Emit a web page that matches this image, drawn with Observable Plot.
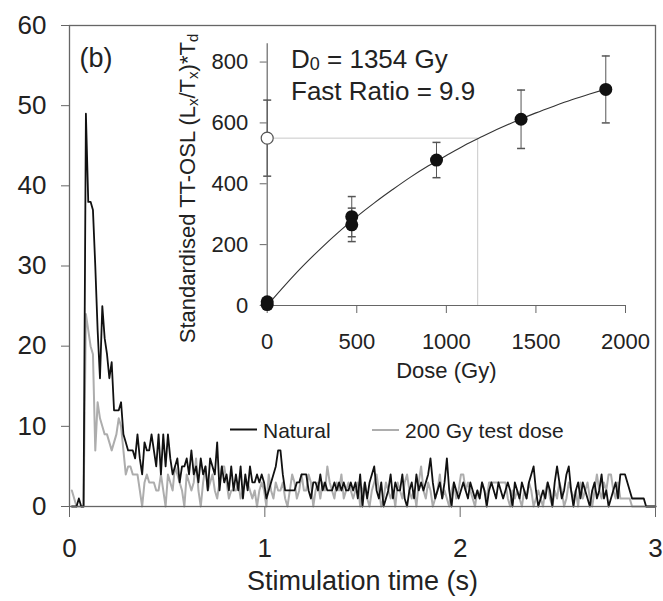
<!DOCTYPE html>
<html><head><meta charset="utf-8">
<script src="https://cdn.jsdelivr.net/npm/d3@7"></script>
<script src="https://cdn.jsdelivr.net/npm/@observablehq/plot@0.6"></script>
<style>
body{margin:0;background:#fff;}
#wrap{position:relative;width:663px;height:601px;background:#fff;}
#wrap svg{position:absolute;}
</style></head><body><div id="wrap"></div>
<script>
// ---------- main chart data (TT-OSL decay curves) ----------
const channelWidth = 0.012; // s per channel
const timeTicks = [0, 1, 2, 3];
const countTicks = [0, 10, 20, 30, 40, 50, 60];
const seriesNames = ["Natural", "200 Gy test dose"];
const naturalCounts = [
  0,0,0,1,0,0,49,38,38,37,
  30,22,16,25,21,19,16,18,12,12,
  12,13,9,8,7,7,7,6,9,6,
  4,8,7,7,9,7,5,9,4,9,
  5,9,6,4,5,6,3,5,5,6,
  4,7,4,5,3,6,4,5,2,6,
  5,4,8,2,5,3,4,2,5,2,
  4,2,5,1,4,2,5,3,3,4,
  3,4,3,1,2,3,4,5,7,7,
  4,2,2,2,2,2,3,3,4,4,
  4,2,1,3,3,2,4,2,3,2,
  2,2,3,2,3,2,3,2,2,3,
  2,3,1,4,0,3,1,3,4,5,
  2,1,3,0,1,2,4,1,3,2,
  2,4,1,0,2,3,1,4,2,3,
  2,3,4,6,3,1,2,3,1,3,
  6,2,0,3,2,1,2,3,2,1,
  3,2,1,2,1,3,2,0,2,3,
  2,1,3,2,1,2,3,2,0,3,
  2,1,3,2,1,3,4,5,2,0,
  1,2,1,3,2,0,3,5,3,1,
  2,4,5,2,0,2,3,1,3,2,
  1,0,2,3,1,2,4,1,2,0,
  1,2,3,1,4,4,4,3,2,1,
  1,1,1,1,1,0,0,0,0,0
];
const testDoseCounts = [
  2,1,0,0,0,0,24,22,20,19,
  7,13,11,10,9,9,8,7,8,9,
  11,10,7,4,5,5,4,4,4,2,
  0,3,4,3,3,3,2,2,4,2,
  0,4,3,2,5,4,3,2,0,4,
  3,2,3,6,2,0,3,5,2,3,
  4,2,1,3,5,5,3,1,2,2,
  2,3,1,2,3,3,2,1,2,0,
  2,3,2,0,4,2,1,3,2,2,
  3,1,0,2,4,3,1,2,4,2,
  2,4,3,0,2,3,1,3,2,5,
  3,2,1,3,2,4,1,2,3,2,
  1,2,3,0,2,3,1,0,2,3,
  4,2,0,1,3,2,1,2,0,3,
  2,1,3,4,2,1,2,0,3,5,
  2,1,3,2,0,1,2,4,1,2,
  1,0,2,3,1,2,4,4,2,3,
  2,1,0,2,1,3,2,1,3,3,
  3,3,3,3,3,3,1,0,2,1,
  2,1,0,2,1,3,2,0,1,2,
  1,0,2,3,1,0,2,1,3,2,
  0,1,3,2,1,2,0,3,1,2,
  3,1,0,2,4,2,1,3,2,4,
  4,2,1,3,1,1,1,1,1,0,
  0,0,0,0,0,0,0,0,0,0
];

// ---------- inset data (dose response) ----------
const regenDose = [0, 0, 472, 472, 945, 1417, 1890];
const regenSignal = [3, 12, 292, 265, 478, 612, 710];
const regenError = [0, 0, 66, 55, 58, 96, 110];
const naturalSignal = 550;
const naturalError = 125;
const equivalentDose = 1175;
const fitDose = [0,100,200,300,400,500,600,700,800,900,1000,1100,1200,1300,1400,1500,1600,1700,1800,1890];
const fitSignal = [0,67,130,188,242,292,338,381,422,459,493,526,555,583,609,633,655,676,695,711];
const doseTicks = [0, 500, 1000, 1500, 2000];
const signalTicks = [0, 200, 400, 600, 800];

const FONT = "'Liberation Sans', Arial, sans-serif";
const wrap = document.getElementById("wrap");

const naturalRows = naturalCounts.map((v, i) => ({t: (i + 1) * channelWidth, v}));
const testRows = testDoseCounts.map((v, i) => ({t: (i + 1) * channelWidth, v}));

const main = Plot.plot({
  width: 663, height: 601,
  marginLeft: 69, marginRight: 8, marginTop: 25, marginBottom: 95,
  style: {background: "transparent", fontFamily: FONT, color: "#222", left: "0px", top: "0px", overflow: "visible"},
  x: {domain: [0, 3]},
  y: {domain: [0, 60]},
  marks: [
    Plot.line(testRows, {x: "t", y: "v", stroke: "#adadad", strokeWidth: 2}),
    Plot.line(naturalRows, {x: "t", y: "v", stroke: "#111", strokeWidth: 1.8}),
    Plot.frame({stroke: "#666", strokeWidth: 1.3}),
    Plot.axisY({ticks: countTicks, tickSize: 8, tickPadding: 15, fontSize: 26, label: null, tickFormat: d => String(d), stroke: "#666"}),
    Plot.axisX({ticks: timeTicks, tickSize: 11, tickPadding: 21, fontSize: 26, label: null, tickFormat: d => String(d), stroke: "#666"}),
    Plot.text(["Stimulation time (s)"], {frameAnchor: "bottom", dy: 83, fontSize: 27, fill: "#222"})
  ]
});
wrap.append(main);

// panel label and legend
const gm = d3.select(main).append("g").attr("font-family", FONT).attr("fill", "#222").attr("text-anchor", "start");
gm.append("text").attr("x", 96).attr("y", 67).attr("text-anchor", "middle").attr("font-size", 27).text("(b)");
gm.append("line").attr("x1", 230).attr("x2", 257).attr("y1", 429.5).attr("y2", 429.5).attr("stroke", "#111").attr("stroke-width", 2);
gm.append("text").attr("x", 263).attr("y", 437.5).attr("font-size", 21).text(seriesNames[0]);
gm.append("line").attr("x1", 372).attr("x2", 399).attr("y1", 430).attr("y2", 430).attr("stroke", "#adadad").attr("stroke-width", 2);
gm.append("text").attr("x", 405).attr("y", 437.5).attr("font-size", 21).text(seriesNames[1]);

// ---------- inset ----------
const regen = regenDose.map((d, i) => ({dose: d, lx: regenSignal[i], lo: regenSignal[i] - regenError[i], hi: regenSignal[i] + regenError[i], e: regenError[i]}));
const regenErr = regen.filter(d => d.e > 0);
const fit = fitDose.map((d, i) => ({dose: d, lx: fitSignal[i]}));
const nat = [{dose: 0, lx: naturalSignal, lo: naturalSignal - naturalError, hi: naturalSignal + naturalError}];
const capSymbol = {draw(ctx, size) { const w = Math.sqrt(size / Math.PI); ctx.moveTo(-w, 0); ctx.lineTo(w, 0); }};

const inset = Plot.plot({
  width: 510, height: 380,
  marginLeft: 116.7, marginRight: 35, marginTop: 23.3, marginBottom: 95,
  style: {background: "transparent", fontFamily: FONT, color: "#222", left: "150px", top: "20px", overflow: "visible"},
  x: {domain: [0, 2000]},
  y: {domain: [0, 860]},
  marks: [
    Plot.ruleY([naturalSignal], {x1: 0, x2: equivalentDose, stroke: "#c8c8c8", strokeWidth: 1}),
    Plot.ruleX([equivalentDose], {y1: 0, y2: naturalSignal, stroke: "#c8c8c8", strokeWidth: 1}),
    Plot.ruleX([0], {stroke: "#666", strokeWidth: 1.2}),
    Plot.ruleY([0], {stroke: "#666", strokeWidth: 1.2}),
    Plot.axisY({ticks: signalTicks, tickSize: 7, tickPadding: 12, fontSize: 22, label: null, tickFormat: d => String(d), stroke: "#666"}),
    Plot.axisX({ticks: doseTicks, tickSize: 8, tickPadding: 19.5, fontSize: 22, label: null, tickFormat: d => String(d), stroke: "#666"}),
    Plot.line(fit, {x: "dose", y: "lx", stroke: "#333", strokeWidth: 1.1, curve: "monotone-x"}),
    Plot.ruleX(nat, {x: "dose", y1: "lo", y2: "hi", stroke: "#555", strokeWidth: 1}),
    Plot.dot(nat, {x: "dose", y: "lo", symbol: capSymbol, r: 4, stroke: "#555", fill: "none"}),
    Plot.dot(nat, {x: "dose", y: "hi", symbol: capSymbol, r: 4, stroke: "#555", fill: "none"}),
    Plot.ruleX(regenErr, {x: "dose", y1: "lo", y2: "hi", stroke: "#555", strokeWidth: 1}),
    Plot.dot(regenErr, {x: "dose", y: "lo", symbol: capSymbol, r: 4, stroke: "#555", fill: "none"}),
    Plot.dot(regenErr, {x: "dose", y: "hi", symbol: capSymbol, r: 4, stroke: "#555", fill: "none"}),
    Plot.dot(regen, {x: "dose", y: "lx", r: 6.5, fill: "#111", stroke: "none"}),
    Plot.dot(nat, {x: "dose", y: "lx", r: 6, fill: "white", stroke: "#555", strokeWidth: 1.2}),
    Plot.text(["Dose (Gy)"], {frameAnchor: "bottom", dy: 72, fontSize: 22, fill: "#222"})
  ]
});
wrap.append(inset);

const gi = d3.select(inset).append("g").attr("font-family", FONT).attr("fill", "#222").attr("text-anchor", "start");
const t1 = gi.append("text").attr("x", 141).attr("y", 48).attr("font-size", 26);
t1.append("tspan").text("D");
t1.append("tspan").attr("font-size", 18).attr("dy", 2).text("0");
t1.append("tspan").attr("dy", -2).text(" = 1354 Gy");
gi.append("text").attr("x", 141).attr("y", 80).attr("font-size", 26).text("Fast Ratio = 9.9");

const yl = gi.append("text").attr("transform", "translate(45,168.5) rotate(-90)").attr("text-anchor", "middle").attr("font-size", 22);
yl.append("tspan").text("Standardised TT-OSL (L");
yl.append("tspan").attr("font-size", 15).attr("dy", 3).text("x");
yl.append("tspan").attr("dy", -3).text("/T");
yl.append("tspan").attr("font-size", 15).attr("dy", 3).text("x");
yl.append("tspan").attr("dy", -3).text(")*T");
yl.append("tspan").attr("font-size", 15).attr("dy", 3).text("d");
</script>
</body></html>
